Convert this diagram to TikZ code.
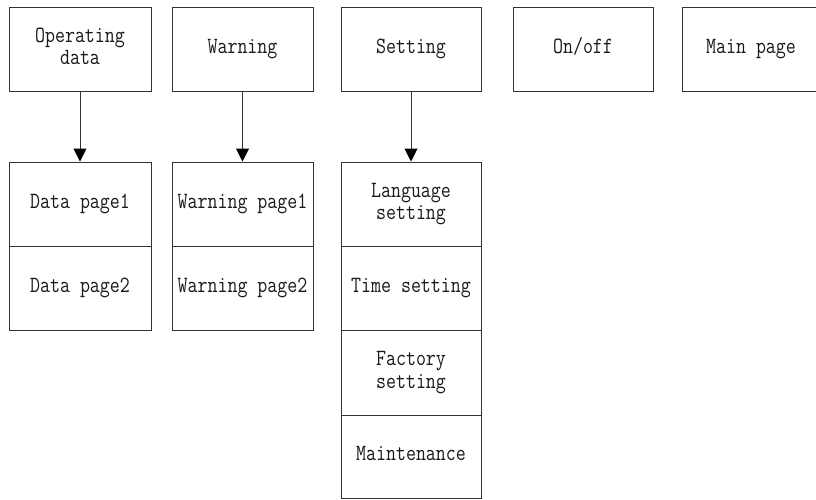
\documentclass[tikz,border=0pt]{standalone}
\usetikzlibrary{arrows.meta}
\definecolor{linec}{HTML}{333333}
\definecolor{textc}{HTML}{1A1A1A}
\newcommand{\stxt}[1]{\scalebox{1}[1.2]{\begin{tabular}{@{}c@{}}#1\end{tabular}}}
\tikzset{
  box/.style={draw=linec, line width=1pt, inner sep=0pt, text=textc,
    font=\fontsize{19.4}{18.5}\selectfont\ttfamily},
  topbox/.style={box, minimum height=84pt},
  arr/.style={draw=linec, line width=1pt, -{Triangle[width=13pt,length=13pt,color=black]}}
}
\begin{document}
\begin{tikzpicture}[x=1pt,y=-1pt]
\useasboundingbox (0,0) rectangle (816,499);
\fill[white] (0,0) rectangle (816,499);
% top row
\node[topbox, minimum width=142pt] (op) at (80,49) {\stxt{Operating\\data}};
\node[topbox, minimum width=141pt] (wa) at (242.5,49) {\stxt{Warning}};
\node[topbox, minimum width=140pt] (se) at (411,49) {\stxt{Setting}};
\node[topbox, minimum width=140pt] (on) at (583,49) {\stxt{On/off}};
\node[topbox, minimum width=138pt] (mp) at (751,49) {\stxt{Main page}};
% column 1
\node[box, minimum width=142pt, minimum height=84pt] (d1) at (80,204) {\stxt{Data page1}};
\node[box, minimum width=142pt, minimum height=84pt] (d2) at (80,288) {\stxt{Data page2}};
% column 2
\node[box, minimum width=141pt, minimum height=84pt] (w1) at (242.5,204) {\stxt{Warning page1}};
\node[box, minimum width=141pt, minimum height=84pt] (w2) at (242.5,288) {\stxt{Warning page2}};
% column 3
\node[box, minimum width=140pt, minimum height=84pt] (s1) at (411,204) {\stxt{Language\\setting}};
\node[box, minimum width=140pt, minimum height=84pt] (s2) at (411,288) {\stxt{Time setting}};
\node[box, minimum width=140pt, minimum height=85pt] (s3) at (411,372.5) {\stxt{Factory\\setting}};
\node[box, minimum width=140pt, minimum height=83pt] (s4) at (411,456.5) {\stxt{Maintenance}};
% arrows
\draw[arr] (op) -- (d1);
\draw[arr] (wa) -- (w1);
\draw[arr] (se) -- (s1);
\end{tikzpicture}
\end{document}
